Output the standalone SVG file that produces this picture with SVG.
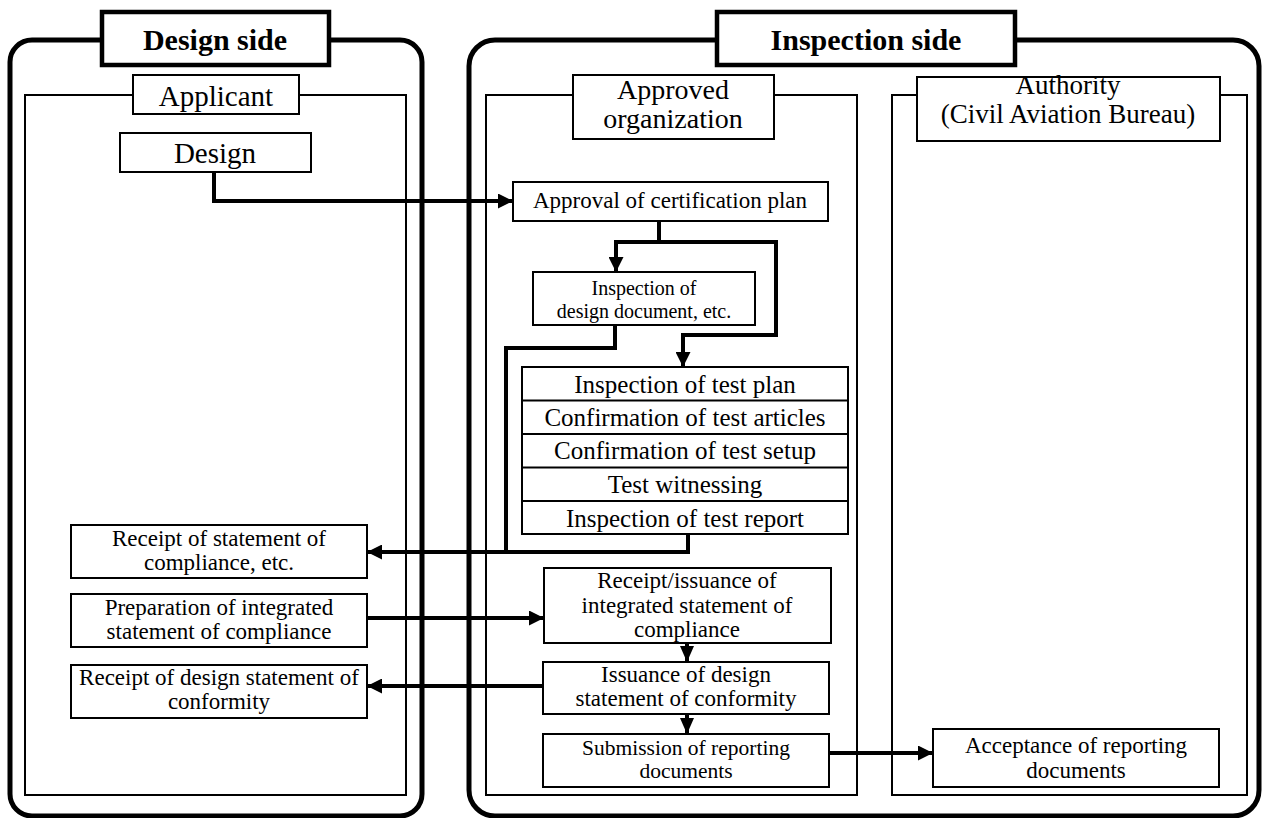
<svg xmlns="http://www.w3.org/2000/svg" width="1265" height="818" viewBox="0 0 1265 818">
<style>
  text { font-family: "Liberation Serif", "Times New Roman", Times, "DejaVu Serif", serif; fill: #000; text-anchor: middle; }
  .side { fill: none; stroke: #000; stroke-width: 5; }
  .sidelabel { fill: #fff; stroke: #000; stroke-width: 4.5; }
  .lane { fill: none; stroke: #000; stroke-width: 2; }
  .lanelabel { fill: #fff; stroke: #000; stroke-width: 2; }
  .box { fill: #fff; stroke: #000; stroke-width: 2; }
  .conn { fill: none; stroke: #000; stroke-width: 4; }
  .t30b { font-size: 30px; font-weight: bold; }
  .t29 { font-size: 29px; }
  .t28 { font-size: 28px; }
  .t27 { font-size: 27px; }
  .t25 { font-size: 25px; }
  .t23 { font-size: 23px; }
  .t21 { font-size: 21.5px; }
  .t20 { font-size: 20px; }
</style>
<defs>
  <marker id="arr" viewBox="0 0 15 15" markerWidth="15" markerHeight="15" refX="14" refY="7.5" markerUnits="userSpaceOnUse" orient="auto">
    <path d="M0,0 L15,7.5 L0,15 z" fill="#000"/>
  </marker>
  <marker id="arrs" viewBox="0 0 14 16" markerWidth="14" markerHeight="16" refX="15" refY="7" markerUnits="userSpaceOnUse" orient="auto">
    <path d="M0,0 L16,7 L0,14 z" fill="#000"/>
  </marker>
</defs>

<g id="design-side">
  <rect class="side" x="10" y="40" width="412" height="776" rx="22"/>
</g>
<g id="inspection-side">
  <rect class="side" x="469" y="40" width="790" height="776" rx="26"/>
</g>

<g id="applicant-lane">
  <rect class="lane" x="25" y="95" width="381" height="700"/>
  <rect class="lanelabel" x="133" y="75" width="166" height="39"/>
  <text class="t29" x="216" y="106">Applicant</text>
</g>
<g id="approved-org-lane">
  <rect class="lane" x="486" y="95" width="371" height="700"/>
  <rect class="lanelabel" x="573" y="75" width="201" height="64"/>
  <text class="t28" x="673" y="99">Approved</text>
  <text class="t28" x="673" y="128">organization</text>
</g>
<g id="authority-lane">
  <rect class="lane" x="892" y="95" width="355" height="700"/>
  <rect class="lanelabel" x="917" y="77" width="303" height="64"/>
  <text class="t27" x="1068" y="94">Authority</text>
  <text class="t27" x="1068" y="123">(Civil Aviation Bureau)</text>
</g>

<g id="design-side-label">
  <rect class="sidelabel" x="102" y="12" width="227" height="53"/>
  <text class="t30b" x="215" y="50">Design side</text>
</g>
<g id="inspection-side-label">
  <rect class="sidelabel" x="717" y="12" width="298" height="53"/>
  <text class="t30b" x="866" y="50">Inspection side</text>
</g>

<g id="connectors">
  <path class="conn" d="M214,172 V201 H512" marker-end="url(#arr)"/>
  <path class="conn" d="M659,221 V242 H616 V271" marker-end="url(#arr)"/>
  <path class="conn" d="M659,242 H776 V335 H683 V366" marker-end="url(#arr)"/>
  <path class="conn" d="M615,325 V348 H506 V552 H368" marker-end="url(#arr)"/>
  <path class="conn" d="M688,535 V552 H504"/>
  <path class="conn" d="M367,618 H543" marker-end="url(#arr)"/>
  <path class="conn" d="M687,643 V661" marker-end="url(#arrs)"/>
  <path class="conn" d="M543,686 H368" marker-end="url(#arr)"/>
  <path class="conn" d="M687,714 V733" marker-end="url(#arrs)"/>
  <path class="conn" d="M829,753 H932" marker-end="url(#arr)"/>
</g>

<g id="design">
  <rect class="box" x="120" y="133" width="191" height="39"/>
  <text class="t29" x="215" y="163">Design</text>
</g>
<g id="approval-plan">
  <rect class="box" x="513" y="182" width="315" height="39"/>
  <text class="t23" x="670" y="208">Approval of certification plan</text>
</g>
<g id="inspection-design-doc">
  <rect class="box" x="533" y="272" width="222" height="53"/>
  <text class="t20" x="644" y="295">Inspection of</text>
  <text class="t20" x="644" y="318">design document, etc.</text>
</g>
<g id="test-stack">
  <rect class="box" x="522" y="367" width="326" height="167"/>
  <line class="lane" x1="522" y1="400.5" x2="848" y2="400.5"/>
  <line class="lane" x1="522" y1="434" x2="848" y2="434"/>
  <line class="lane" x1="522" y1="467.5" x2="848" y2="467.5"/>
  <line class="lane" x1="522" y1="501" x2="848" y2="501"/>
  <text class="t25" x="685" y="393">Inspection of test plan</text>
  <text class="t25" x="685" y="426">Confirmation of test articles</text>
  <text class="t25" x="685" y="459">Confirmation of test setup</text>
  <text class="t25" x="685" y="493">Test witnessing</text>
  <text class="t25" x="685" y="527">Inspection of test report</text>
</g>
<g id="receipt-statement">
  <rect class="box" x="71" y="525" width="296" height="53"/>
  <text class="t23" x="219" y="546">Receipt of statement of</text>
  <text class="t23" x="219" y="570">compliance, etc.</text>
</g>
<g id="preparation-integrated">
  <rect class="box" x="71" y="594" width="296" height="53"/>
  <text class="t23" x="219" y="615">Preparation of integrated</text>
  <text class="t23" x="219" y="639">statement of compliance</text>
</g>
<g id="receipt-design-statement">
  <rect class="box" x="71" y="665" width="296" height="53"/>
  <text class="t23" x="219" y="685">Receipt of design statement of</text>
  <text class="t23" x="219" y="709">conformity</text>
</g>
<g id="receipt-issuance">
  <rect class="box" x="544" y="568" width="287" height="75"/>
  <text class="t23" x="687" y="588">Receipt/issuance of</text>
  <text class="t23" x="687" y="613">integrated statement of</text>
  <text class="t23" x="687" y="637">compliance</text>
</g>
<g id="issuance-design">
  <rect class="box" x="543" y="662" width="286" height="52"/>
  <text class="t23" x="686" y="682">Issuance of design</text>
  <text class="t23" x="686" y="706">statement of conformity</text>
</g>
<g id="submission">
  <rect class="box" x="543" y="734" width="286" height="53"/>
  <text class="t21" x="686" y="755">Submission of reporting</text>
  <text class="t21" x="686" y="778">documents</text>
</g>
<g id="acceptance">
  <rect class="box" x="933" y="729" width="286" height="58"/>
  <text class="t23" x="1076" y="753">Acceptance of reporting</text>
  <text class="t23" x="1076" y="778">documents</text>
</g>
</svg>
